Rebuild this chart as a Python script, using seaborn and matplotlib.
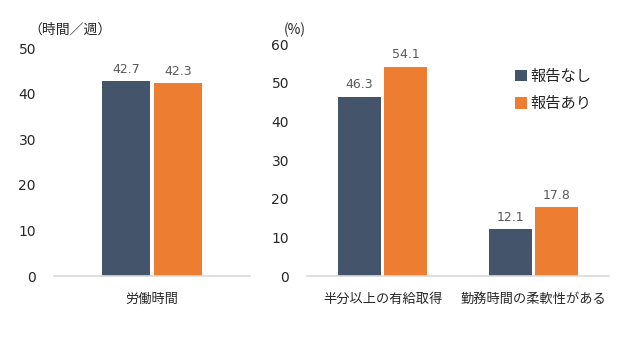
import matplotlib
matplotlib.use("Agg")
import matplotlib.pyplot as plt
import seaborn as sns
import pandas as pd
from matplotlib.patches import Patch

sns.set_theme(style="white")
plt.rcParams['font.family'] = ['DejaVu Sans', 'Noto Sans CJK JP']

groups = ["報告なし", "報告あり"]
hours_cat = ["労働時間"]
hours_vals = {"報告なし": [42.7], "報告あり": [42.3]}
pct_cats = ["半分以上の有給取得", "勤務時間の柔軟性がある"]
pct_vals = {"報告なし": [46.3, 12.1], "報告あり": [54.1, 17.8]}
left_ticks = [0, 10, 20, 30, 40, 50]
right_ticks = [0, 10, 20, 30, 40, 50, 60]
colors = ["#44546A", "#ED7D31"]

def to_df(cats, vals):
    rows = []
    for g in groups:
        for c, v in zip(cats, vals[g]):
            rows.append({"cat": c, "group": g, "val": v})
    return pd.DataFrame(rows)

df1 = to_df(hours_cat, hours_vals)
df2 = to_df(pct_cats, pct_vals)

W, H = 640, 350
fig = plt.figure(figsize=(6.4, 3.5), dpi=100)
ax1 = fig.add_axes([54 / W, 74 / H, 196 / W, 228 / H])
ax2 = fig.add_axes([307 / W, 74 / H, 302 / W, 232 / H])

jp = ['Noto Sans CJK JP', 'DejaVu Sans']

def style(ax, df, ticks, width, gap, ypad):
    sns.barplot(data=df, x="cat", y="val", hue="group", hue_order=groups,
                palette=colors, saturation=1, width=width, gap=gap, ax=ax,
                legend=False, edgecolor="none", linewidth=0)
    ax.set_ylim(ticks[0], ticks[-1])
    ax.set_yticks(ticks)
    ax.set_xlabel("")
    ax.set_ylabel("")
    for s in ["top", "right", "left"]:
        ax.spines[s].set_visible(False)
    ax.spines["bottom"].set_color("#D9D9D9")
    ax.spines["bottom"].set_linewidth(1.2)
    ax.tick_params(axis="y", length=0, labelsize=10, labelcolor="#262626", pad=ypad)
    ax.tick_params(axis="x", length=0, labelsize=9.5, labelcolor="#262626", pad=12)
    for lab in ax.get_xticklabels():
        lab.set_family(jp)
    for cont in ax.containers:
        ax.bar_label(cont, fmt="%.1f", padding=4, fontsize=9, color="#595959")

style(ax1, df1, left_ticks, 0.53, 0.077, 13)
style(ax2, df2, right_ticks, 0.616, 0.086, 13)

fig.text(28 / W, 1 - 30 / H, "（時間／週）", fontsize=10, color="#262626",
         va="center", ha="left", family=jp)
fig.text(284 / W, 1 - 30 / H, "(%)", fontsize=10, color="#262626",
         va="center", ha="left", family=jp)

handles = [Patch(facecolor=c, edgecolor="none") for c in colors]
leg = fig.legend(handles, groups, loc="upper left", bbox_to_anchor=(501 / W, 1 - 54 / H),
                 frameon=False, handlelength=0.8, handleheight=0.8,
                 handletextpad=0.25, labelspacing=0.7, prop={'family': jp, 'size': 11})

fig.savefig("out.png", dpi=100)
